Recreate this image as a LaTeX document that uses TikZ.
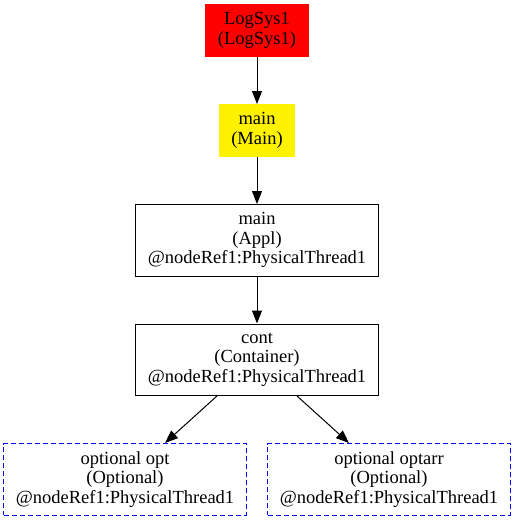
\documentclass[tikz,border=0pt]{standalone}
\usepackage{fontspec}
\setmainfont{Liberation Serif}
\usetikzlibrary{positioning,arrows.meta}
\tikzset{
  box/.style  ={draw, line width=1pt, inner xsep=12pt, inner ysep=0pt, align=center,
                font=\fontsize{18.5}{19.5}\selectfont, minimum height=52pt},
  sys/.style  ={box, fill=red, draw=red},
  entry/.style={box, fill=yellow, draw=yellow},
  comp/.style ={box, minimum height=71.5pt},
  optl/.style ={comp, draw=blue, dash pattern=on 5pt off 3pt},
  fl/.style   ={-{Triangle[length=13pt,width=10pt]}, line width=1pt}
}
\newcommand{\thr}{@nodeRef1:PhysicalThread1}

\begin{document}
\begin{tikzpicture}[x=1pt,y=1pt,node distance=47pt]
  \useasboundingbox (0,0) rectangle (515,-520);
  \node[sys] (logsys) at (257,-30.5) {LogSys1\\(LogSys1)};
  \node[entry, below=of logsys] (main) {main\\(Main)};
  \node[comp, below=of main]    (appl) {main\\(Appl)\\\thr};
  \node[comp, below=of appl]    (cont) {cont\\(Container)\\\thr};

  % optional children
  \node[optl, below=of cont, xshift=-132pt] (opt)    {optional opt\\(Optional)\\\thr};
  \node[optl, below=of cont, xshift=132pt]  (optarr) {optional optarr\\(Optional)\\\thr};

  \draw[fl](logsys)--(main); \draw[fl](main)--(appl);
  \draw[fl](appl)--(cont);
  \draw[fl](cont)--(opt); \draw[fl](cont)--(optarr);
\end{tikzpicture}
\end{document}
